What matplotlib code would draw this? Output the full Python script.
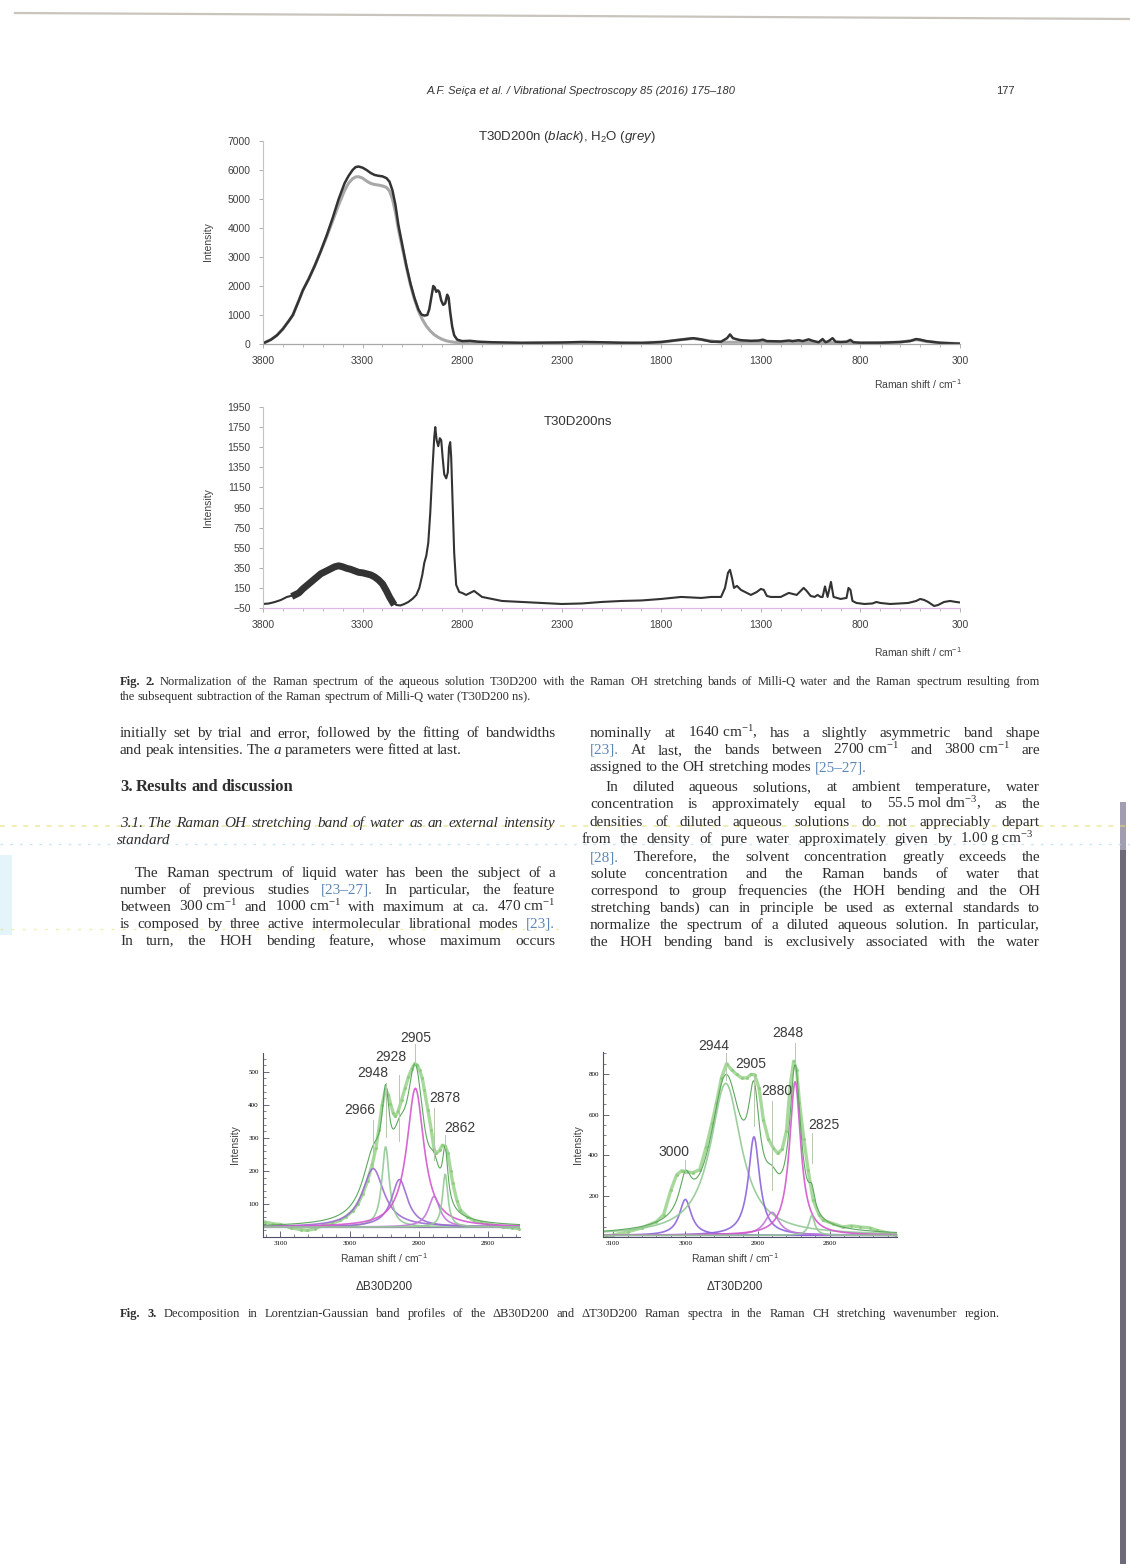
import numpy as np
import matplotlib
matplotlib.use("Agg")
import matplotlib.pyplot as plt
from matplotlib.lines import Line2D
from matplotlib.patches import Rectangle
from matplotlib.ticker import MultipleLocator

W, H = 1130, 1564

plt.rcParams['font.family'] = ['Liberation Sans', 'DejaVu Sans']
plt.rcParams['mathtext.fontset'] = 'custom'
plt.rcParams['mathtext.rm'] = 'Liberation Serif'
plt.rcParams['mathtext.it'] = 'Liberation Sans:italic'
plt.rcParams['mathtext.sf'] = 'Liberation Sans'
plt.rcParams['mathtext.bf'] = 'Liberation Serif:bold'

# ---------------- Fig. 2 data ----------------
wn_n = [3800, 3760, 3730, 3700, 3670, 3650, 3620, 3600, 3570, 3540, 3510, 3480, 3450,
        3420, 3390, 3370, 3350, 3335, 3320, 3300, 3280, 3260, 3240, 3220, 3200, 3180,
        3165, 3150, 3135, 3120, 3100, 3080, 3060, 3040, 3020, 3005, 2990, 2975, 2965,
        2955, 2945, 2938, 2930, 2922, 2915, 2905, 2895, 2885, 2875, 2868, 2860, 2850,
        2840, 2825, 2800, 2760, 2720, 2650, 2500, 2300, 2200, 2100, 2000, 1900, 1800,
        1700, 1640, 1600, 1550, 1500, 1470, 1455, 1440, 1420, 1400, 1350, 1310, 1290,
        1270, 1200, 1160, 1140, 1110, 1090, 1060, 1040, 1010, 990, 975, 960, 940, 925,
        900, 870, 850, 835, 800, 700, 600, 550, 520, 500, 470, 400, 300]
t30d200n = [20, 150, 300, 520, 800, 1000, 1500, 1850, 2250, 2700, 3200, 3750, 4350,
            5000, 5550, 5800, 6000, 6100, 6120, 6080, 6000, 5900, 5830, 5800, 5780, 5720,
            5600, 5300, 4800, 4100, 3400, 2700, 2100, 1600, 1200, 1020, 980, 1000, 1200,
            1600, 2000, 1950, 1800, 1850, 1800, 1500, 1350, 1400, 1700, 1600, 1100, 600,
            300, 150, 100, 110, 80, 60, 40, 50, 70, 60, 40, 30, 70,
            150, 200, 160, 80, 80, 200, 330, 200, 160, 130, 110, 120, 150,
            100, 90, 120, 100, 130, 100, 160, 110, 60, 170, 60, 100, 200, 80,
            70, 80, 140, 60, 40, 40, 70, 100, 170, 150, 100, 40, 10]

wn_w = [3800, 3760, 3730, 3700, 3670, 3650, 3620, 3600, 3570, 3540, 3510, 3480, 3450,
        3420, 3390, 3370, 3350, 3335, 3320, 3300, 3280, 3260, 3240, 3220, 3200, 3180,
        3165, 3150, 3135, 3120, 3100, 3080, 3060, 3040, 3020, 3000, 2980, 2960, 2940,
        2920, 2900, 2880, 2860, 2840, 2800, 2750, 2700, 2500, 2200, 2000, 1800, 1700,
        1640, 1600, 1500, 1300, 1000, 800, 600, 520, 470, 400, 300]
h2o = [20, 150, 300, 520, 800, 1000, 1500, 1850, 2250, 2700, 3200, 3700, 4250,
       4800, 5300, 5550, 5700, 5760, 5770, 5720, 5620, 5540, 5500, 5480, 5450, 5400,
       5280, 5000, 4550, 3950, 3300, 2650, 2050, 1550, 1150, 850, 620, 450, 320,
       230, 160, 110, 80, 60, 40, 30, 30, 30, 50, 40, 60, 150,
       190, 150, 60, 60, 50, 40, 60, 150, 90, 40, 10]

wn_ns = [3800, 3770, 3740, 3710, 3680, 3660, 3640, 3620, 3600, 3570, 3540, 3510, 3480,
         3460, 3440, 3420, 3400, 3380, 3360, 3340, 3320, 3300, 3280, 3260, 3240, 3220,
         3200, 3180, 3165, 3150, 3130, 3110, 3090, 3070, 3050, 3030, 3015, 3000, 2990,
         2980, 2970, 2960, 2950, 2940, 2935, 2928, 2920, 2912, 2905, 2898, 2890, 2880,
         2872, 2866, 2860, 2855, 2848, 2840, 2830, 2815, 2800, 2780, 2760, 2740, 2720,
         2700, 2650, 2600, 2500, 2400, 2300, 2200, 2100, 2000, 1900, 1800, 1700, 1600,
         1550, 1500, 1480, 1465, 1455, 1445, 1435, 1420, 1400, 1380, 1350, 1320, 1300,
         1285, 1270, 1250, 1200, 1160, 1140, 1120, 1100, 1085, 1070, 1050, 1030, 1015,
         1000, 990, 978, 965, 948, 935, 900, 870, 860, 850, 840, 820, 780, 740, 720,
         700, 650, 600, 560, 520, 500, 480, 460, 430, 410, 380, 350, 320, 300]
t30d200ns = [-10, -5, 10, 30, 60, 70, 80, 100, 140, 190, 240, 290, 320,
             340, 360, 370, 360, 345, 335, 320, 305, 300, 290, 280, 260, 230,
             190, 120, 60, 10, -20, -25, -10, 10, 40, 80, 150, 280, 400,
             470, 600, 900, 1300, 1650, 1750, 1620, 1560, 1640, 1620, 1450, 1280, 1240,
             1300, 1550, 1600, 1450, 1000, 500, 180, 110, 100, 80, 100, 120, 90,
             60, 40, 20, 10, 0, -10, -5, 10, 20, 25, 40, 60, 50,
             60, 60, 150, 300, 330, 250, 150, 170, 130, 110, 80, 110, 140,
             130, 70, 60, 60, 100, 90, 80, 120, 150, 120, 70, 60, 80,
             60, 60, 165, 60, 210, 60, 40, 50, 150, 130, 20, 0, -10, -5, 10,
             0, -10, -5, 0, 20, 40, 30, 10, -30, -20, 10, 20, 10, 5]

# ---------------- Fig. 3 data ----------------
# Delta B30D200: experimental points and band parameters (centre, height, half width)
b_wn = [3122, 3110, 3100, 3085, 3070, 3061, 3050, 3038, 3025, 3014, 3005, 2995, 2988,
        2981, 2974, 2967, 2962, 2958, 2953, 2948, 2944, 2941, 2937, 2934, 2930, 2925,
        2920, 2915, 2910, 2906, 2902, 2899, 2895, 2892, 2887, 2882, 2878, 2875, 2870,
        2866, 2862, 2858, 2854, 2851, 2845, 2840, 2830, 2821, 2810, 2802, 2790, 2778,
        2765, 2755]
b_int = [45, 40, 38, 28, 22, 20, 25, 35, 42, 50, 62, 80, 100,
         131, 170, 222, 270, 323, 400, 448, 430, 404, 375, 365, 380, 414,
         450, 485, 510, 525, 520, 505, 480, 444, 385, 323, 265, 253, 262,
         278, 275, 253, 200, 162, 110, 81, 62, 50, 44, 40, 35, 30,
         28, 25]
b_bands = [2966, 2948, 2928, 2905, 2878, 2862]
b_height = [177, 243, 144, 420, 93, 160]
b_hwhm = [19, 6.5, 14, 15, 10, 4.7]
b_base = 30

# Delta T30D200
t_wn = [3110, 3100, 3080, 3060, 3040, 3030, 3020, 3012, 3005, 2998, 2990, 2980, 2971,
        2963, 2957, 2950, 2943, 2936, 2929, 2922, 2915, 2909, 2904, 2898, 2892, 2885,
        2878, 2872, 2866, 2860, 2855, 2850, 2846, 2842, 2836, 2830, 2823, 2815, 2809,
        2795, 2782, 2770, 2758, 2745, 2735, 2720, 2708]
t_int = [5, 10, 25, 45, 75, 110, 230, 305, 325, 320, 315, 330, 443,
         560, 657, 780, 850, 820, 797, 780, 780, 797, 795, 730, 575, 480,
         435, 410, 430, 520, 739, 862, 820, 657, 480, 328, 180, 110, 82,
         65, 49, 55, 49, 45, 33, 20, 8]
t_bands = [3000, 2944, 2905, 2880, 2848, 2825]
t_height = [176, 745, 483, 113, 753, 97]
t_hwhm = [10, 26, 9.5, 12, 9.5, 5]
t_base = 8

INK = '#2e2e2e'
LINK = '#5d86b5'
PURPLE = '#9b6bd3'
VIOLET = '#8a63dd'
MAGENTA = '#d356cf'
ORCHID = '#c276d6'
GREEN = '#93c995'
BODY = 11.0
CAP = 9.0

fig = plt.figure(figsize=(W / 100, H / 100), dpi=100)
fig.patch.set_facecolor('white')
renderer = fig.canvas.get_renderer()


def fy(y):
    return 1 - y / H


def add_ax(x0, y0, x1, y1):
    return fig.add_axes([x0 / W, 1 - y1 / H, (x1 - x0) / W, (y1 - y0) / H])


def put_line(text, y, x0, x1, size=BODY, justify=True, family='Liberation Serif',
             style='normal', weight='normal', bold_first=0, color=INK):
    words = text.split(' ')
    arts = []
    for i, w in enumerate(words):
        col = LINK if w.startswith('[') else color
        st = style
        if w.startswith('_'):
            w, st = w[1:], 'italic'
        wt = 'bold' if i < bold_first else weight
        t = fig.text(x0 / W, fy(y + 4), w.replace('~', ' '), fontsize=size, color=col,
                     family=family, style=st, weight=wt, va='baseline', ha='left')
        arts.append(t)
    widths = [t.get_window_extent(renderer).width for t in arts]
    space = size * 0.3
    if justify and len(arts) > 1:
        gap = max((x1 - x0 - sum(widths)) / (len(arts) - 1), space * 0.6)
    else:
        gap = space
    x = x0
    for t, w in zip(arts, widths):
        t.set_x(x / W)
        x += w + gap


# ---------------- page furniture / scan marks ----------------
fig.add_artist(Line2D([15 / W, 1.0], [fy(13), fy(19)], color='#c9c5bc', lw=1.6))
fig.add_artist(Rectangle((1120 / W, 0), 6 / W, (H - 850) / H, color='#6f6a78', lw=0))
fig.add_artist(Rectangle((1120 / W, fy(850)), 6 / W, 48 / H, color='#a39db2', lw=0))
fig.add_artist(Line2D([0, 1], [fy(826), fy(826)], color='#e6dc6a', lw=1.2, alpha=0.6,
                      ls=(0, (3, 4))))
fig.add_artist(Line2D([0, 1], [fy(844), fy(844)], color='#a9d6ea', lw=1.0, alpha=0.6,
                      ls=(0, (2, 5))))
fig.add_artist(Line2D([0, 0.5], [fy(929), fy(929)], color='#e6dc6a', lw=1.0, alpha=0.5,
                      ls=(0, (2, 6))))
fig.add_artist(Rectangle((0, fy(935)), 12 / W, 80 / H, color='#d8f1f8', lw=0, alpha=0.7))

fig.text(581 / W, fy(91), "A.F. Seiça et al. / Vibrational Spectroscopy 85 (2016) 175–180",
         fontsize=8, style='italic', ha='center', va='center', color='#333333')
fig.text(1005 / W, fy(91), "177", fontsize=8, ha='center', va='center', color='#333333')


def style_fig2(ax, ylo, yhi, ystep, bottom_col):
    ax.set_xlim(3800, 300)
    ax.set_ylim(ylo, yhi)
    for s in ('top', 'right'):
        ax.spines[s].set_visible(False)
    ax.spines['left'].set_color('#c4c4c4')
    ax.spines['bottom'].set_color(bottom_col)
    ax.spines['left'].set_linewidth(0.8)
    ax.spines['bottom'].set_linewidth(0.9)
    ax.set_xticks(range(3800, 299, -500))
    ax.xaxis.set_minor_locator(MultipleLocator(100))
    ax.set_yticks(np.arange(ylo, yhi + 1, ystep))
    ax.tick_params(labelsize=7.5, labelcolor='#404040', color='#b0b0b0', length=3,
                   width=0.7, pad=6)
    ax.tick_params(which='minor', length=2, color='#b0b0b0')
    ax.patch.set_alpha(0)


# ---------------- Fig. 2 top ----------------
ax1 = add_ax(263, 141, 960, 344)
ax1.plot(wn_w, h2o, color='#a8a8a8', lw=2.2, solid_joinstyle='round')
ax1.plot(wn_n, t30d200n, color='#333333', lw=1.8, solid_joinstyle='round')
style_fig2(ax1, 0, 7000, 1000, '#a8a8a8')
fig.text(567 / W, fy(137), r"T30D200n ($\mathit{black}$), H$_{\mathsf{2}}$O ($\mathit{grey}$)",
         fontsize=9.5, ha='center', va='center', color='#333333')
fig.text(208 / W, fy(242), "Intensity", rotation=90, fontsize=7.5, ha='center', va='center',
         color='#404040')
fig.text(918 / W, fy(384), r"Raman shift / cm$^{\mathsf{-1}}$", fontsize=7.5, ha='center',
         va='center', color='#404040')

# ---------------- Fig. 2 bottom ----------------
ax2 = add_ax(263, 407, 960, 608)
ax2.plot(wn_ns, t30d200ns, color='#333333', lw=1.5, solid_joinstyle='round')
oh = slice(wn_ns.index(3640), wn_ns.index(3150) + 1)
ax2.plot(wn_ns[oh], t30d200ns[oh], color='#333333', lw=5.0, solid_joinstyle='round')
style_fig2(ax2, -50, 1950, 200, '#dcb8e0')
fig.text(578 / W, fy(422), "T30D200ns", fontsize=9.5, ha='center', va='center',
         color='#333333')
fig.text(208 / W, fy(508), "Intensity", rotation=90, fontsize=7.5, ha='center', va='center',
         color='#404040')
fig.text(918 / W, fy(652), r"Raman shift / cm$^{\mathsf{-1}}$", fontsize=7.5, ha='center',
         va='center', color='#404040')

# ---------------- captions and body text ----------------
put_line("Fig. 2. Normalization of the Raman spectrum of the aqueous solution T30D200 with the "
         "Raman OH stretching bands of Milli-Q water and the Raman spectrum resulting from",
         681, 120, 1040, size=CAP, bold_first=2)
put_line("the subsequent subtraction of the Raman spectrum of Milli-Q water (T30D200~ns).",
         696, 120, 1040, size=CAP, justify=False)

left = [
    ("initially set by trial and error, followed by the fitting of bandwidths", 733, 0, True),
    ("and peak intensities. The _a parameters were fitted at last.", 750, 0, False),
    ("The Raman spectrum of liquid water has been the subject of a", 873, 15, True),
    ("number of previous studies [23–27]. In particular, the feature", 890, 0, True),
    ("between 300~cm$^{-1}$ and 1000~cm$^{-1}$ with maximum at ca. 470~cm$^{-1}$", 907, 0, True),
    ("is composed by three active intermolecular librational modes [23].", 924, 0, True),
    ("In turn, the HOH bending feature, whose maximum occurs", 941, 0, True),
]
for txt, y, ind, j in left:
    put_line(txt, y, 120 + ind, 555, justify=j)

put_line("3. Results and discussion", 787, 120, 555, size=12, justify=False, weight='bold')
put_line("3.1. The Raman OH stretching band of water as an external intensity", 823, 120, 555,
         style='italic')
put_line("standard", 840, 117, 555, style='italic', justify=False)

right = [
    ("nominally at 1640~cm$^{-1}$, has a slightly asymmetric band shape", 733, 0, True),
    ("[23]. At last, the bands between 2700~cm$^{-1}$ and 3800~cm$^{-1}$ are", 750, 0, True),
    ("assigned to the OH stretching modes [25–27].", 767, 0, False),
    ("In diluted aqueous solutions, at ambient temperature, water", 787, 15, True),
    ("concentration is approximately equal to 55.5~mol~dm$^{-3}$, as the", 804, 0, True),
    ("densities of diluted aqueous solutions do not appreciably depart", 822, 0, True),
    ("from the density of pure water approximately given by 1.00~g~cm$^{-3}$", 839, -8, True),
    ("[28]. Therefore, the solvent concentration greatly exceeds the", 857, 0, True),
    ("solute concentration and the Raman bands of water that", 874, 0, True),
    ("correspond to group frequencies (the HOH bending and the OH", 891, 0, True),
    ("stretching bands) can in principle be used as external standards to", 908, 0, True),
    ("normalize the spectrum of a diluted aqueous solution. In particular,", 925, 0, True),
    ("the HOH bending band is exclusively associated with the water", 942, 0, True),
]
for txt, y, ind, j in right:
    x1 = 1034 if ind < 0 else 1040
    put_line(txt, y, 590 + ind, x1, justify=j)


# ---------------- Fig. 3 ----------------
def band(x, c, h, w, base):
    return base + h / (1 + ((x - c) / w) ** 2)


def decomposition(ax, xlim, ylim, wn, inten, bands, heights, hwhm, base, colors, ymajor,
                  yminor, labels):
    x = np.linspace(xlim[0], xlim[1], 800)
    total = np.full_like(x, float(base))
    ax.plot(wn, inten, color='#8ccc7c', lw=2.4, alpha=0.75, marker='.', ms=2.5,
            solid_joinstyle='round')
    ax.plot(xlim, [base, base], color='#8c7fb0', lw=0.9)
    for c, h, w, col in zip(bands, heights, hwhm, colors):
        ax.plot(x, band(x, c, h, w, base), color=col, lw=1.2, alpha=0.9)
        total += h / (1 + ((x - c) / w) ** 2)
    ax.plot(x, total, color='#5ea85e', lw=0.8)
    for lab, tx, ty, ly0, ly1 in labels:
        ax.plot([lab, lab], [ly0, ly1], color='#b5c8ae', lw=0.7, clip_on=False)
        ax.text(tx, ty, str(lab), fontsize=10, ha='center', va='center', color='#3a3a3a')
    ax.set_xlim(*xlim)
    ax.set_ylim(*ylim)
    for s in ('top', 'right'):
        ax.spines[s].set_visible(False)
    for s in ('left', 'bottom'):
        ax.spines[s].set_color('#4f4f6a')
        ax.spines[s].set_linewidth(0.8)
    ax.set_xticks([3100, 3000, 2900, 2800])
    ax.xaxis.set_minor_locator(MultipleLocator(20))
    ax.yaxis.set_major_locator(MultipleLocator(ymajor))
    ax.yaxis.set_minor_locator(MultipleLocator(yminor))
    ax.set_yticks([v for v in ax.get_yticks() if 0 < v < ylim[1]])
    ax.tick_params(direction='in', length=4, width=0.6, color='#4f4f6a', labelsize=5,
                   pad=3)
    ax.tick_params(which='minor', direction='in', length=2, width=0.5, color='#4f4f6a')
    for t in ax.get_xticklabels() + ax.get_yticklabels():
        t.set_family('Liberation Serif')
    ax.patch.set_alpha(0)


ax3 = add_ax(263, 1053, 520, 1237)
decomposition(ax3, (3125, 2754), (0, 557), b_wn, b_int, b_bands, b_height, b_hwhm, b_base,
              [PURPLE, GREEN, PURPLE, MAGENTA, ORCHID, GREEN], 100, 20,
              [(2905, 2905, 601, 585, 525), (2928, 2941, 545, 490, 290),
               (2948, 2967, 495, 465, 303), (2966, 2985, 385, 354, 212),
               (2878, 2863, 420, 389, 232), (2862, 2841, 331, 308, 268)])

ax4 = add_ax(603, 1052, 897, 1237)
decomposition(ax4, (3114, 2707), (0, 907), t_wn, t_int, t_bands, t_height, t_hwhm, t_base,
              [VIOLET, GREEN, VIOLET, ORCHID, MAGENTA, GREEN], 200, 50,
              [(3000, 3016, 419, 378, 312), (2944, 2961, 936, 903, 772),
               (2905, 2909, 846, 805, 542), (2880, 2874, 714, 665, 230),
               (2848, 2858, 998, 952, 870), (2825, 2808, 550, 509, 361)])

for xc in (235, 578):
    fig.text(xc / W, fy(1145), "Intensity", rotation=90, fontsize=7.5, ha='center',
             va='center', color='#404040')
for xc, name in ((384, "ΔB30D200"), (735, "ΔT30D200")):
    fig.text(xc / W, fy(1258), r"Raman shift / cm$^{\mathsf{-1}}$", fontsize=7.5,
             ha='center', va='center', color='#404040')
    fig.text(xc / W, fy(1287), name, fontsize=8.5, ha='center', va='center',
             color='#333333')

put_line("Fig. 3. Decomposition in Lorentzian-Gaussian band profiles of the ΔB30D200 and "
         "ΔT30D200 Raman spectra in the Raman CH stretching wavenumber region.",
         1313, 120, 1000, size=CAP, bold_first=2)

fig.savefig("out.png", dpi=100, facecolor='white')
